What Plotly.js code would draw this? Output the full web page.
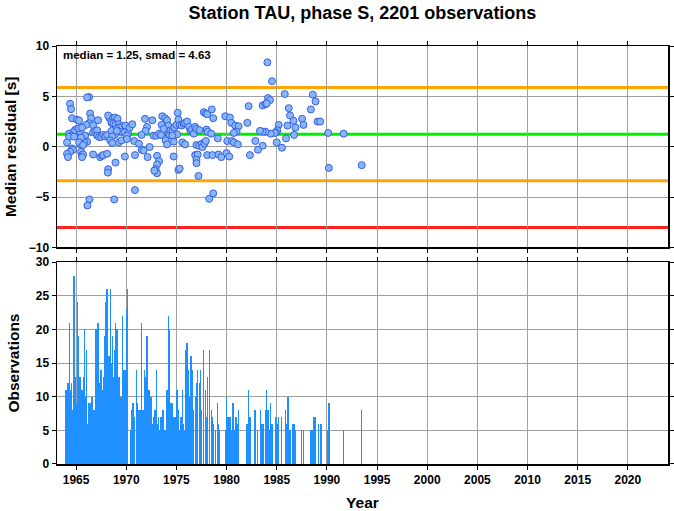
<!DOCTYPE html>
<html>
<head>
<meta charset="utf-8">
<script src="https://cdn.plot.ly/plotly-3.0.1.min.js"></script>
<style>html,body{margin:0;padding:0;background:#fff;}#chart{width:674px;height:511px;}</style>
</head>
<body>
<div id="chart"></div>
<script>
// ---- Data ----
const station = "TAU";
const phase = "S";
const nObs = 2201;
const median = 1.25;
const smad = 4.63;

// Median residual points (year, residual in s)
const resYears = [
1966.3,1966.1,1964.4,1964.5,1964.6,1965.1,1965.3,1966.4,1966.5,1966.3,1966.0,1966.7,1967.2,1964.9,1965.1,1965.4,1965.3,1965.6,1964.7,1964.3,
1964.5,1964.3,1964.1,1964.8,1966.7,1966.9,1967.1,1967.1,1967.3,1967.5,1967.7,1967.9,1968.1,1965.9,1966.1,1965.8,1965.5,1965.4,1965.3,1965.7,
1964.6,1964.7,1964.4,1964.1,1964.2,1965.5,1965.6,1965.7,1965.6,1966.7,1967.4,1967.6,1967.7,1968.1,1968.33,1968.2,1968.67,1968.87,1969.13,1968.53,
1968.73,1968.93,1969.27,1969.6,1969.93,1969.27,1969.0,1969.53,1969.87,1970.2,1970.33,1970.6,1968.53,1968.87,1969.07,1968.6,1968.4,1968.6,1969.27,1969.53,
1970.07,1970.07,1970.8,1968.93,1969.87,1970.87,1968.2,1968.17,1970.87,1966.33,1966.13,1968.8,
1971.27,1971.87,1972.6,1972.07,1971.93,1971.53,1971.53,1971.73,1972.33,1972.13,1972.73,1973.0,1973.27,1973.47,1973.53,1973.6,1973.87,1974.07,1974.2,1973.73,
1974.2,1974.33,1974.4,1974.6,1974.8,1975.0,1975.2,1975.13,1975.33,1975.53,1975.73,1975.87,1976.07,1976.27,1976.4,1976.53,1976.73,1976.87,1977.0,1975.07,
1974.6,1973.93,1974.07,1974.73,1974.73,1975.6,1975.87,1977.0,1977.27,1977.53,1977.6,1977.8,1977.93,1973.07,1973.27,1973.07,1972.93,1973.07,1972.8,1975.2,
1975.33,1976.87,1977.13,1977.0,1977.0,1977.2,1978.07,1978.6,1977.73,1977.93,1978.07,1978.53,1978.67,1978.0,1978.13,1978.47,1978.27,1978.67,1977.3,
1984.07,1984.53,1984.13,1984.33,1983.6,1983.87,1984.0,1982.2,1985.8,1988.6,1988.87,1988.4,1986.2,1986.33,1986.67,1987.53,1987.67,1986.87,1986.07,1985.2,
1985.07,1984.93,1984.8,1984.4,1983.87,1983.6,1983.33,1986.73,1985.93,1985.0,1985.53,1983.6,1983.13,1982.33,1982.87,1982.07,1979.87,1980.33,1980.47,1980.87,
1981.2,1981.0,1980.73,1979.13,1980.07,1980.53,1980.73,1981.13,1980.0,1980.27,1979.2,1979.47,1989.07,1989.33,1990.13,1991.67,1990.2,1993.47
];
const resValues = [
4.93,4.9,4.27,3.73,2.83,2.67,2.6,3.3,2.83,2.33,2.17,2.13,2.63,1.67,1.77,1.5,1.83,1.9,1.43,1.3,
1.1,0.97,0.43,1.0,1.43,1.57,1.63,1.1,0.97,0.97,1.17,1.03,1.17,1.1,0.5,0.43,0.9,0.23,0.43,0.17,
-0.17,-0.3,-0.5,-0.7,-1.03,-0.5,-0.83,-0.77,-1.03,-0.77,-1.03,-0.9,-0.83,-0.7,2.83,3.1,2.83,2.9,2.77,2.37,
2.3,2.17,2.23,2.03,2.1,1.9,1.77,1.5,1.43,1.3,1.9,2.23,1.57,1.17,1.57,1.03,0.63,0.37,0.43,0.63,
1.1,0.77,0.57,-1.57,-0.97,-0.83,-2.23,-2.57,-4.3,-5.23,-5.83,-5.23,
0.3,2.77,2.63,1.97,1.57,1.17,-0.3,-0.37,-0.03,-1.03,1.1,1.1,1.3,1.17,2.17,3.03,2.83,2.63,2.1,1.77,
1.3,1.17,1.63,1.57,1.9,2.17,2.7,3.37,2.17,2.1,2.3,2.37,2.5,1.97,1.57,1.7,1.3,1.97,1.77,1.23,
1.1,0.63,0.23,0.5,-0.97,0.43,0.23,0.17,0.1,0.3,-0.03,0.3,0.57,-0.9,-1.43,-1.77,-2.23,-2.63,-2.37,-2.3,
-2.17,-0.83,-0.77,-1.3,-1.63,-2.9,-0.83,-0.83,3.43,3.3,3.23,3.7,2.83,1.7,1.5,1.3,-5.17,-4.63,1.65,
8.37,6.5,4.83,4.63,4.1,4.23,4.3,4.03,5.23,5.17,4.5,3.7,3.83,3.1,2.57,2.77,2.17,1.9,2.1,2.17,
1.63,1.43,1.37,1.3,1.5,1.5,1.57,1.17,0.83,0.43,-0.1,0.1,-0.3,-0.83,0.57,2.37,3.03,2.9,2.37,2.1,
2.03,1.5,1.37,0.83,0.57,0.57,0.43,0.23,-0.63,-0.97,-0.77,-1.03,2.5,2.5,1.37,1.3,-2.1,-1.83
];

// Observation counts (year, count)
const obsYears = [
1964.00,1964.13,1964.20,1964.33,1964.40,1964.53,1964.67,1964.80,1964.87,1964.93,1965.07,1965.13,1965.20,1965.27,1965.33,1965.40,1965.47,1965.60,1965.73,1965.87,
1965.93,1966.00,1966.07,1966.13,1966.27,1966.40,1966.47,1966.60,1966.67,1966.80,1966.93,1967.00,1967.07,1967.20,1967.27,1967.33,1967.40,1967.47,1967.60,1967.73,
1967.80,1967.93,1968.00,1968.07,1968.13,1968.27,1968.40,1968.47,1968.53,1968.60,1968.67,1968.73,1968.80,1968.93,1969.00,1969.07,1969.20,1969.33,1969.47,1969.60,
1969.67,1969.80,1969.87,1970.00,1970.07,1970.13,1970.40,1970.53,1970.67,1970.80,1971.00,
1971.13,1971.27,1971.40,1971.53,1971.67,1971.80,1971.93,1972.07,1972.20,1972.33,1972.47,1972.60,1972.73,1972.87,1973.00,1973.13,1973.20,1973.27,1973.40,1973.53,
1973.67,1973.80,1973.93,1974.00,1974.13,1974.20,1974.33,1974.47,1974.60,1974.73,1974.87,1975.00,1975.07,1975.20,1975.33,1975.47,1975.60,1975.73,1975.80,1975.93,
1976.07,1976.20,1976.33,1976.47,1976.60,1976.73,1976.87,1977.00,1977.13,1977.27,1977.40,1977.53,1977.67,1977.73,1977.87,1978.00,1978.13,1978.27,1978.33,1978.47,
1978.60,1978.73,
1978.93,1979.07,1979.20,1979.33,1979.87,1980.00,1980.07,1980.20,1980.33,1980.47,1980.60,1980.67,1980.80,1980.93,1981.07,1981.20,1982.00,1982.13,1982.20,1982.33,
1982.80,1982.87,1983.07,1983.40,1983.53,1983.67,1983.87,1983.93,1984.00,1984.13,1984.27,1984.40,1984.53,1984.87,1985.00,1985.13,1985.20,1985.47,1985.87,1986.00,
1986.13,1986.27,1986.40,1986.60,1986.73,1986.87,1987.47,1987.67,1988.40,1988.53,1988.73,1988.87,1989.13,1989.40,1990.07,1990.20,1990.27,1991.67,1993.47
];
const obsCounts = [
11,11,12,21,11,12,8,28,27,13,9,24,13,19,7,13,8,11,13,20,
10,7,17,6,9,9,7,10,6,8,11,20,12,21,3,5,12,14,11,13,
19,24,20,26,13,16,26,13,15,19,13,12,17,21,13,20,13,13,10,22,
14,13,14,16,23,26,5,8,9,7,14,
9,8,8,21,8,14,13,19,11,11,10,6,7,8,14,6,7,5,7,7,
8,5,5,11,11,22,20,9,9,7,7,5,11,8,5,7,11,6,5,17,
18,14,10,16,14,8,10,12,14,12,14,8,6,17,11,7,13,9,17,8,
7,6,
5,9,6,5,5,10,7,7,7,5,9,9,5,7,6,8,6,6,11,7,
8,8,5,8,6,6,6,8,11,8,5,9,6,7,7,6,7,7,8,6,
10,5,5,6,6,5,5,5,5,5,7,7,6,6,5,9,9,5,8
];

const xTicks = [1965,1970,1975,1980,1985,1990,1995,2000,2005,2010,2015,2020];

// ---- Styling ----
const FONT = "Liberation Sans, Arial, Helvetica, sans-serif";
const gridColor = "#a0a0a0";
const xRange = [1963.1, 2024];

const scatter = {
  type: "scatter", mode: "markers",
  x: resYears, y: resValues,
  xaxis: "x", yaxis: "y",
  marker: {size: 7, color: "rgb(135,182,246)", line: {color: "rgb(55,95,230)", width: 1}},
  hoverinfo: "x+y", showlegend: false
};
const bars = {
  type: "bar",
  x: obsYears, y: obsCounts,
  xaxis: "x2", yaxis: "y2",
  width: 0.13,
  marker: {color: "#1e90ff", line: {width: 0}},
  showlegend: false
};

const axisCommon = {
  showline: true, linecolor: "#000", linewidth: 1.5, mirror: "ticks",
  ticks: "outside", ticklen: 4, tickwidth: 1, tickcolor: "#000",
  showgrid: true, gridcolor: gridColor, gridwidth: 1, zeroline: false,
  tickfont: {family: FONT, size: 12, color: "#000", weight: "bold"}
};

function hline(y, color) {
  return {type: "line", xref: "paper", yref: "y", x0: 0, x1: 1, y0: y, y1: y,
          line: {color: color, width: 3}, layer: "below"};
}

const layout = {
  width: 674, height: 511,
  margin: {l: 57, r: 6, t: 46, b: 47},
  paper_bgcolor: "#fff", plot_bgcolor: "#fff",
  title: {text: "Station " + station + ", phase " + phase + ", " + nObs + " observations",
          font: {family: FONT, size: 18, color: "#000", weight: "bold"},
          x: 0.5, xref: "paper", xanchor: "center", y: 1 - 13/511, yanchor: "middle"},
  xaxis: Object.assign({}, axisCommon, {domain: [0, 1], anchor: "y", range: xRange,
          tickvals: xTicks, showticklabels: false}),
  yaxis: Object.assign({}, axisCommon, {domain: [0.518, 1], anchor: "x", range: [-10, 10],
          tickvals: [-10, -5, 0, 5, 10],
          title: {text: "Median residual [s]", standoff: 8,
                  font: {family: FONT, size: 15.5, color: "#000", weight: "bold"}}}),
  xaxis2: Object.assign({}, axisCommon, {domain: [0, 1], anchor: "y2", range: xRange,
          tickvals: xTicks,
          title: {text: "Year", standoff: 12,
                  font: {family: FONT, size: 15.5, color: "#000", weight: "bold"}}}),
  yaxis2: Object.assign({}, axisCommon, {domain: [0, 0.483], anchor: "x2", range: [0, 30],
          tickvals: [0, 5, 10, 15, 20, 25, 30],
          title: {text: "Observations", standoff: 12,
                  font: {family: FONT, size: 15.5, color: "#000", weight: "bold"}}}),
  shapes: [
    hline(median + smad, "#ffa500"),
    hline(median - smad, "#ffa500"),
    hline(median, "#00ee00"),
    hline(median - 2 * smad, "#ff2020")
  ],
  annotations: [{
    text: "median = " + median.toFixed(2) + ", smad = " + smad.toFixed(2),
    xref: "paper", yref: "y domain", x: 0.006, y: 0.995, xanchor: "left", yanchor: "top",
    showarrow: false, font: {family: FONT, size: 11.5, color: "#000", weight: "bold"}
  }],
  bargap: 0
};

Plotly.newPlot("chart", [scatter, bars], layout, {displayModeBar: false, staticPlot: true});
</script>
</body>
</html>
